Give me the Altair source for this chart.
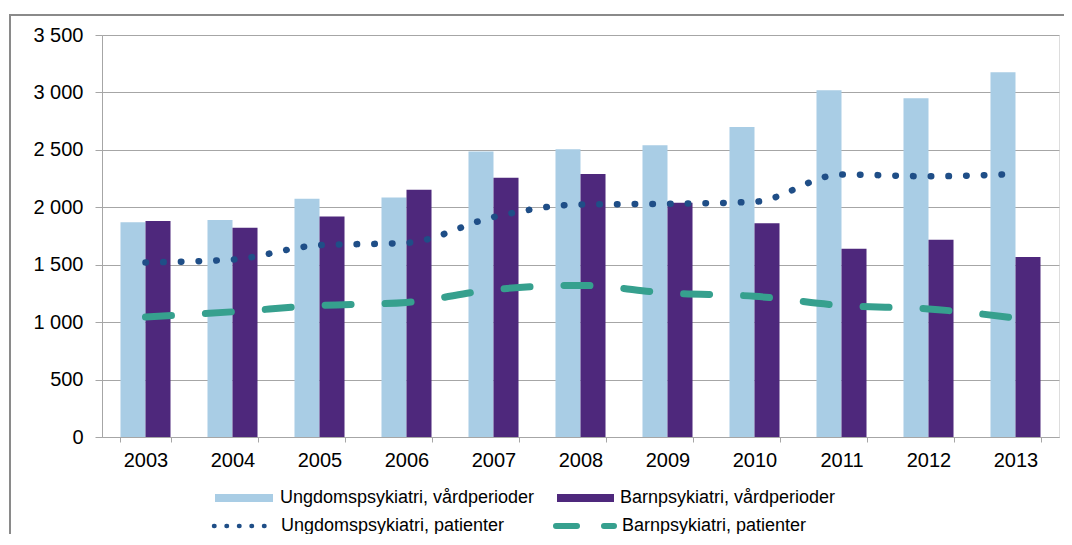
import altair as alt
import pandas as pd

years = ["2003", "2004", "2005", "2006", "2007", "2008", "2009", "2010", "2011", "2012", "2013"]
ungdom_vard = [1870, 1890, 2075, 2085, 2485, 2505, 2540, 2700, 3020, 2950, 3175]
barn_vard = [1880, 1822, 1920, 2152, 2257, 2290, 2040, 1862, 1640, 1717, 1567]
ungdom_pat = [1520, 1545, 1670, 1690, 1915, 2025, 2030, 2048, 2286, 2270, 2290]
barn_pat = [1045, 1090, 1145, 1172, 1283, 1320, 1254, 1225, 1145, 1115, 1036]

S_UV = "Ungdomspsykiatri, vårdperioder"
S_BV = "Barnpsykiatri, vårdperioder"
S_UP = "Ungdomspsykiatri, patienter"
S_BP = "Barnpsykiatri, patienter"

C_LIGHT = "#A9CDE5"
C_PURPLE = "#4E287C"
C_NAVY = "#1F4E87"
C_TEAL = "#36A08E"
GRID = "#A6A6A6"
FONT = "Liberation Sans"

bars_df = pd.DataFrame(
    [{"year": y, "serie": S_UV, "value": v} for y, v in zip(years, ungdom_vard)]
    + [{"year": y, "serie": S_BV, "value": v} for y, v in zip(years, barn_vard)]
)
up_df = pd.DataFrame({"year": years, "value": ungdom_pat})
bp_df = pd.DataFrame({"year": years, "value": barn_pat})

x_scale = alt.Scale(domain=years, paddingInner=0.425, paddingOuter=0.2125)
y_scale = alt.Scale(domain=[0, 3500], nice=False)

x_axis = alt.Axis(
    title=None, labelFont=FONT, labelFontSize=20, labelColor="#000000", labelAngle=0,
    tickBand="extent", tickSize=5, tickColor=GRID, domainColor=GRID, labelPadding=8,
    grid=False,
)
y_axis = alt.Axis(
    title=None, values=[0, 500, 1000, 1500, 2000, 2500, 3000, 3500],
    labelExpr="replace(format(datum.value, ','), ',', ' ')",
    labelFont=FONT, labelFontSize=20, labelColor="#000000", labelPadding=12,
    tickSize=7, tickColor=GRID, domainColor=GRID, gridColor=GRID, grid=True,
)

bars = alt.Chart(bars_df).mark_bar(stroke=None).encode(
    x=alt.X("year:N", scale=x_scale, axis=x_axis, sort=years),
    xOffset=alt.XOffset("serie:N", sort=[S_UV, S_BV], scale=alt.Scale(paddingInner=0, paddingOuter=0)),
    y=alt.Y("value:Q", scale=y_scale, axis=y_axis),
    color=alt.Color("serie:N", scale=alt.Scale(domain=[S_UV, S_BV], range=[C_LIGHT, C_PURPLE]), legend=None),
)

line_up = alt.Chart(up_df).mark_line(
    color=C_NAVY, strokeWidth=6.5, strokeCap="round", strokeDash=[0.5, 17.2], interpolate="monotone"
).encode(
    x=alt.X("year:N", scale=x_scale, sort=years),
    y=alt.Y("value:Q", scale=y_scale),
)

line_bp = alt.Chart(bp_df).mark_line(
    color=C_TEAL, strokeWidth=7, strokeCap="round", strokeDash=[26, 34], interpolate="monotone"
).encode(
    x=alt.X("year:N", scale=x_scale, sort=years),
    y=alt.Y("value:Q", scale=y_scale),
)

# outer frame (extends beyond the visible area like in the reference)
frame = alt.Chart(pd.DataFrame({"a": [0]})).mark_rect(
    fill=None, stroke="#8A8A8A", strokeWidth=2
).encode(
    x=alt.value(-92), x2=alt.value(1200), y=alt.value(-20), y2=alt.value(700)
)

leg_src = pd.DataFrame({"a": [0]})

def swatch(x1, x2, y, color, width, dash=None, cap="butt"):
    kw = dict(color=color, strokeWidth=width, strokeCap=cap)
    if dash is not None:
        kw["strokeDash"] = dash
    return alt.Chart(leg_src).mark_rule(**kw).encode(
        x=alt.value(x1), x2=alt.value(x2), y=alt.value(y)
    )

def label(x, y, text):
    return alt.Chart(leg_src).mark_text(
        text=text, align="left", baseline="middle", font=FONT, fontSize=18, color="#000000"
    ).encode(x=alt.value(x), y=alt.value(y))

legend = alt.layer(
    swatch(113, 171, 463, C_LIGHT, 8),
    label(178, 463, S_UV),
    swatch(455, 512, 463, C_PURPLE, 8),
    label(518, 463, S_BV),
    swatch(112, 166, 491, C_NAVY, 4.5, dash=[0.5, 12], cap="round"),
    label(179, 491, S_UP),
    swatch(454, 512, 491, C_TEAL, 6, dash=[21, 27], cap="round"),
    label(520, 491, S_BP),
)

chart = alt.layer(bars, line_up, line_bp, frame, legend).properties(
    width=957, height=402,
    autosize=alt.AutoSizeParams(type="none"),
    padding={"left": 94, "top": 27, "right": 5, "bottom": 97},
).configure_view(
    stroke=GRID, strokeWidth=1
).configure(
    font=FONT
)

chart.save("out.html", embed_options={"renderer": "svg", "actions": False})
